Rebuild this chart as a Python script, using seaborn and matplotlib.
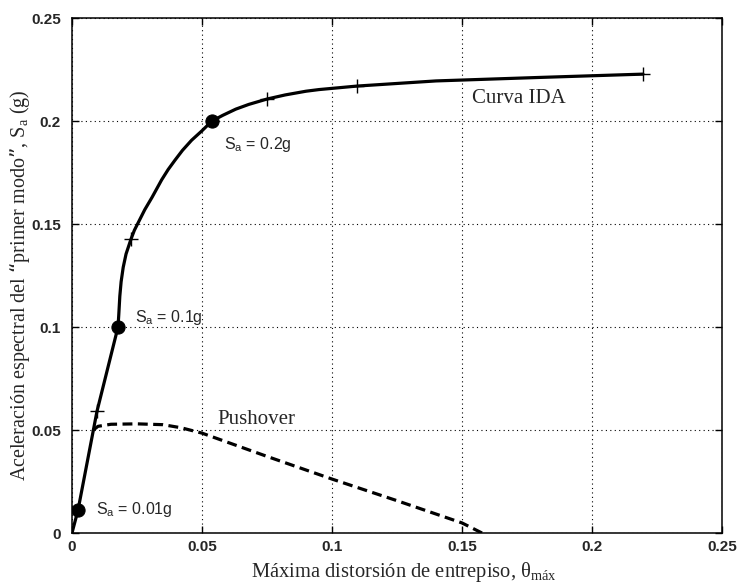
import matplotlib
matplotlib.use("Agg")
import matplotlib.pyplot as plt
import seaborn as sns
import pandas as pd

# IDA curve (max interstory drift vs first-mode spectral acceleration)
ida_drift = [0.0, 0.0023, 0.0096, 0.0177, 0.0180, 0.0184, 0.0189, 0.0197, 0.0208,
             0.0227, 0.0240, 0.0254, 0.0280, 0.0308, 0.0345, 0.0370, 0.0396, 0.0425,
             0.046, 0.050, 0.0538, 0.058, 0.063, 0.068, 0.075, 0.082, 0.09, 0.095,
             0.1096, 0.14, 0.18, 0.2196]
ida_sa = [0.0, 0.011, 0.059, 0.100, 0.106, 0.115, 0.122, 0.129, 0.1355,
          0.1427, 0.147, 0.1505, 0.157, 0.163, 0.1715, 0.1765, 0.181, 0.1858,
          0.1907, 0.1953, 0.200, 0.2028, 0.2058, 0.2081, 0.2107, 0.2127, 0.2145, 0.2153,
          0.217, 0.2195, 0.2212, 0.2228]

# Analysis points shown with '+' along the IDA curve
cross_drift = [0.0096, 0.0227, 0.075, 0.1096, 0.2196]
cross_sa = [0.059, 0.1427, 0.2107, 0.217, 0.2228]

# Highlighted intensity levels
dot_drift = [0.0023, 0.0177, 0.0538]
dot_sa = [0.011, 0.100, 0.200]
dot_labels = ["0.01g", "0.1g", "0.2g"]

# Pushover curve
push_drift = [0.0082, 0.010, 0.015, 0.025, 0.035, 0.042, 0.05, 0.075, 0.1, 0.125, 0.15, 0.1577]
push_sa = [0.050, 0.0518, 0.0528, 0.053, 0.0526, 0.0511, 0.0485, 0.0372, 0.0262, 0.0157, 0.0049, 0.0]

x_ticks = [0, 0.05, 0.1, 0.15, 0.2, 0.25]
y_ticks = [0, 0.05, 0.1, 0.15, 0.2, 0.25]
x_tick_labels = ["0", "0.05", "0.1", "0.15", "0.2", "0.25"]
y_tick_labels = ["0", "0.05", "0.1", "0.15", "0.2", "0.25"]

sns.set_style("white")
plt.rcParams["font.family"] = ["Liberation Sans", "DejaVu Sans"]

fig = plt.figure(figsize=(7.39, 5.84), dpi=100)
ax = fig.add_axes([0.0974, 0.0873, 0.8796, 0.8817])

ida = pd.DataFrame({"drift": ida_drift, "sa": ida_sa})
push = pd.DataFrame({"drift": push_drift, "sa": push_sa})

sns.lineplot(data=ida, x="drift", y="sa", sort=False, estimator=None,
             color="black", linewidth=2.3, ax=ax, zorder=3,
             solid_joinstyle="round", solid_capstyle="round")
sns.lineplot(data=push, x="drift", y="sa", sort=False, estimator=None,
             color="black", linewidth=2.3, ax=ax, zorder=3)
ax.lines[-1].set_dashes([3.1, 1.7])

sns.scatterplot(x=cross_drift, y=cross_sa, marker="+", s=90, color="black",
                linewidth=1.0, ax=ax, zorder=4)
sns.scatterplot(x=dot_drift, y=dot_sa, marker="o", s=90, color="black",
                edgecolor="black", ax=ax, zorder=5)

ax.set_xlim(0, 0.25)
ax.set_ylim(0, 0.25)
ax.set_xticks(x_ticks)
ax.set_yticks(y_ticks)
ax.set_xticklabels(x_tick_labels)
ax.set_yticklabels(y_tick_labels)

for lbl in ax.get_xticklabels() + ax.get_yticklabels():
    lbl.set_fontfamily("Liberation Sans")
    lbl.set_fontsize(11)
    lbl.set_fontweight("bold")

ax.tick_params(direction="in", length=5, width=1, top=True, right=True,
               bottom=True, left=True, color="black")
ax.tick_params(axis="y", pad=8)
ax.tick_params(axis="x", pad=5)
ax.grid(True, color="black", linestyle=(0, (1, 3)), linewidth=0.8)
ax.set_axisbelow(True)
for sp in ax.spines.values():
    sp.set_color("black")
    sp.set_linewidth(1.1)

ax.set_xlabel("Máxima distorsión de entrepiso, θ$_\\mathregular{máx}$",
              family="Liberation Serif", fontsize=14.8, labelpad=3)
ax.xaxis.set_label_coords(0.51, -0.052)
ax.set_ylabel("Aceleración espectral del “primer modo”, S$_\\mathregular{a}$ (g)",
              family="Liberation Serif", fontsize=14.5)
ax.yaxis.set_label_coords(-0.062, 0.482)

ax.text(0.154, 0.211, "Curva IDA", family="Liberation Serif", fontsize=15,
        ha="left", va="center")
ax.text(0.0558, 0.0549, "Pushover", family="Liberation Serif", fontsize=15,
        ha="left", va="center")

label_pos = [(0.0092, 0.0115), (0.0242, 0.1045), (0.0585, 0.1885)]
for (lx, ly), txt in zip(label_pos, dot_labels):
    ax.text(lx, ly, "S$_\\mathregular{a}$ = " + txt, family="Liberation Sans",
            fontsize=11.5, ha="left", va="center")

fig.savefig("out.png", dpi=100)
